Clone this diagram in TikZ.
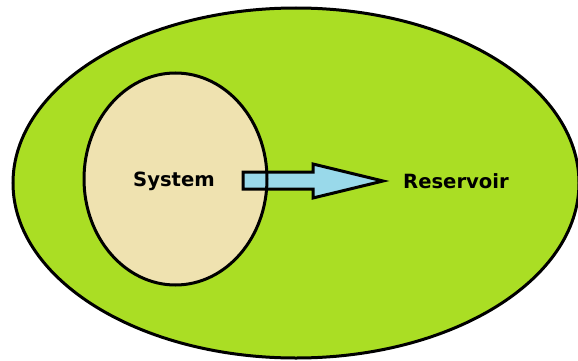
\documentclass[tikz,border=0pt]{standalone}
\usepackage{fontspec}
\setmainfont{DejaVu Sans}
\usetikzlibrary{shapes.geometric}
\definecolor{lime}{RGB}{170,222,36}
\definecolor{cream}{RGB}{239,226,176}
\definecolor{skyblue}{RGB}{153,217,234}
\begin{document}
\begin{tikzpicture}[x=1pt,y=-1pt,
  region/.style={ellipse,inner sep=0pt,line width=3pt},
  label/.style={font=\fontsize{19.6}{22}\selectfont\bfseries,inner sep=0pt}]
\useasboundingbox (0,0) rectangle (578,361);
% surroundings
\node[region,draw=black,fill=lime,minimum width=566pt,minimum height=350pt] (reservoir) at (296,183) {};
% the system, filled first so the flow arrow can sit on it
\node[region,fill=cream,minimum width=183pt,minimum height=212pt] (system) at (175.5,179) {};
% heat flow arrow from system to reservoir
\draw[line width=3pt,fill=skyblue,line join=miter]
  (243,172) -- (313,172) -- (313,164) -- (383,181) -- (313,198) -- (313,189) -- (243,189) -- cycle;
% system boundary on top of the arrow
\node[region,draw=black,minimum width=183pt,minimum height=212pt] (sysline) at (system.center) {};
\node[label] (syslabel) at (174,181) {System};
\node[label] (reslabel) at (456,181) {Reservoir};
\end{tikzpicture}
\end{document}
